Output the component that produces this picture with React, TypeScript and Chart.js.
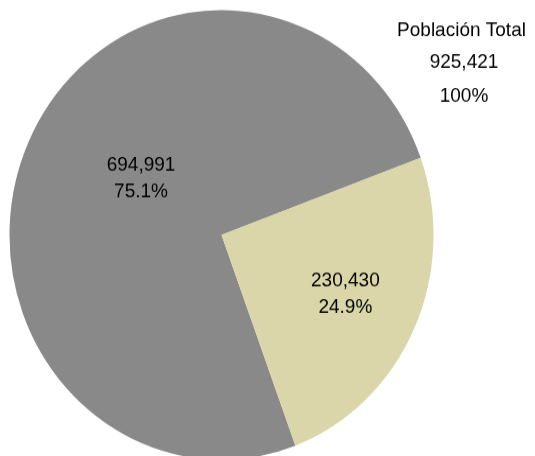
import React, { useEffect, useRef } from "react";
import { Chart, registerables } from "chart.js";

Chart.register(...registerables);

const categories = ["Grupo 1", "Grupo 2"];
const values = [694991, 230430];
const sliceColors = ["#898989", "#dad6a9"];
const totalTitle = "Población Total";
const totalPercentText = "100%";

// label placement (style): angle shift in degrees from slice middle, radius fraction
const labelAngleShift = [8.7, -0.7];
const labelRadiusFrac = [0.455, 0.64];

const FONT = '19px "Liberation Sans", Arial, sans-serif';
const fmt = (n: number) => n.toLocaleString("en-US");

export default function App() {
  const ref = useRef<HTMLCanvasElement | null>(null);

  useEffect(() => {
    const canvas = ref.current;
    if (!canvas) return;
    const total = values.reduce((a, b) => a + b, 0);

    const labelPlugin = {
      id: "sliceLabels",
      afterDatasetsDraw(chart: any) {
        const ctx = chart.ctx as CanvasRenderingContext2D;
        const meta = chart.getDatasetMeta(0);
        ctx.save();
        ctx.font = FONT;
        ctx.fillStyle = "#000";
        ctx.textAlign = "center";
        ctx.textBaseline = "middle";
        meta.data.forEach((arc: any, i: number) => {
          const p = arc.getProps(["x", "y", "startAngle", "endAngle", "outerRadius"], true);
          const mid = (p.startAngle + p.endAngle) / 2 + (labelAngleShift[i] * Math.PI) / 180;
          const r = p.outerRadius * labelRadiusFrac[i];
          const cx = p.x + Math.cos(mid) * r;
          const cy = p.y + Math.sin(mid) * r;
          ctx.fillText(fmt(values[i]), cx, cy - 12.5);
          ctx.fillText(((values[i] / total) * 100).toFixed(1) + "%", cx, cy + 12.5);
        });
        // total block at top right
        ctx.textBaseline = "alphabetic";
        const tx = chart.width - 72;
        ctx.fillText(totalTitle, tx - 1.5, 33.5);
        ctx.fillText(fmt(total), tx + 1, 64.2);
        ctx.fillText(totalPercentText, tx + 1, 95.9);
        ctx.restore();
      },
    };

    const chart = new Chart(canvas, {
      type: "pie",
      data: {
        labels: categories,
        datasets: [
          {
            data: values,
            backgroundColor: sliceColors,
            borderWidth: 0,
            radius: 212,
          } as any,
        ],
      },
      options: {
        responsive: false,
        animation: false,
        devicePixelRatio: 1,
        rotation: 159.6,
        layout: { padding: { left: 0, right: 92, top: 13, bottom: 0 } },
        plugins: {
          legend: { display: false },
          tooltip: { enabled: false },
        },
        events: [],
      } as any,
      plugins: [labelPlugin],
    });
    return () => chart.destroy();
  }, []);

  return (
    <div style={{ position: "fixed", left: 0, top: 0, width: 535, height: 456, background: "#fff" }}>
      <canvas
        ref={ref}
        width={535}
        height={430}
        style={{ display: "block", width: "535px", height: "456px" }}
      />
    </div>
  );
}
